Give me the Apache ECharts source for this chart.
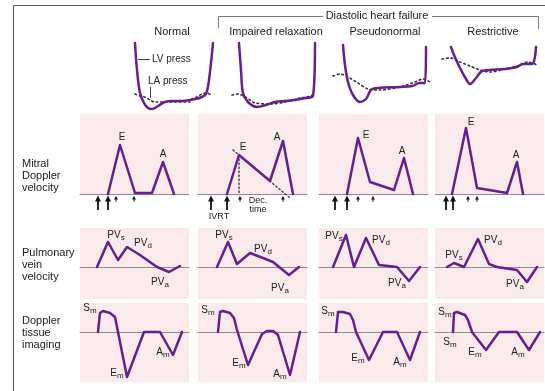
<!DOCTYPE html>
<html>
<head>
<meta charset="utf-8">
<script src="https://cdn.jsdelivr.net/npm/echarts@6/dist/echarts.min.js"></script>
<style>
  html, body { margin: 0; padding: 0; background: #fff; }
  #chart { width: 545px; height: 391px; }
</style>
</head>
<body>
<div id="chart"></div>
<script>
// ---- Content -------------------------------------------------------------
const patterns = ['Normal', 'Impaired relaxation', 'Pseudonormal', 'Restrictive'];
const groupTitle = 'Diastolic heart failure';
const rowTitles = ['Mitral\nDoppler\nvelocity', 'Pulmonary\nvein\nvelocity', 'Doppler\ntissue\nimaging'];
const pressureNames = ['LV press', 'LA press'];
const intervalNames = ['IVRT', 'Dec.\ntime'];

// LV pressure (solid) per pattern: [time, pressure]
const lvPressure = [
  [[5,69],[7,42],[10,19],[14,9],[18,4],[22,3],[28,6],[35,10],[42,11],[50,11],[65,13],[72,15],[76,18],[79,32],[83,69]],
  [[9,69],[11,42],[13,19],[18,10],[27,5],[36,7],[45,10],[55,11],[65,12],[75,14],[83,16],[85,69]],
  [[13,67],[15,47],[18,30],[23,17],[30,10],[36,13],[41,22],[48,24],[70,25],[82,26],[90,29],[95,29],[96,65]],
  [[11,65],[14,57],[20,44],[26,33],[30,28],[36,34],[42,41],[50,42],[65,43],[77,45],[83,48],[92,48],[96,65]]
];
// LA pressure (dotted) per pattern: [time, pressure]
const laPressure = [
  [[5,18],[10,16],[15,15],[20,12],[25,10],[40,10],[60,10],[62,13],[67,15],[72,18],[77,19],[81,17]],
  [[2,17],[8,18],[15,15],[20,12],[25,9],[40,8],[55,10],[70,14],[77,15],[83,17]],
  [[3,36],[10,38],[18,35],[28,29],[38,23],[50,22],[70,25],[85,30],[93,33],[100,30]],
  [[2,53],[10,54],[20,50],[30,46],[40,42],[50,40],[65,43],[77,46],[88,50],[97,47]]
];

// Mitral inflow velocity: [time, velocity, wave]
const mitralFlow = [
  [[28,0],[40,49,'E'],[55,1],[72,1],[83,32,'A'],[94,0]],
  [[29,0],[41,39,'E'],[72,13],[85,53,'A'],[95,0]],
  [[28,0],[39,56,'E'],[51,12],[75,4],[85,36,'A'],[94,0]],
  [[17,0],[31,66,'E'],[42,6],[72,1],[82,32,'A'],[88,0]]
];
// Timing events under the mitral trace (bold = valve events, thin = E onset/decel end)
const mitralBoldEvents = [[18,28],[13,29],[16,28],[11,18]];
const mitralThinEvents = [[36,54],[42,85],[39,54],[33,42]];
// Deceleration slope extrapolated through E (impaired relaxation)
const decelSlope = [[35,44],[92,-4]];

// Pulmonary vein velocity: [time, velocity, wave]
const pvFlow = [
  [[17,0],[28,25,'PVs'],[38,7],[47,20,'PVd'],[60,12],[77,0],[89,-5,'PVa'],[100,1]],
  [[19,0],[30,25,'PVs'],[39,3],[52,14,'PVd'],[65,9],[75,5],[91,-8,'PVa'],[101,0]],
  [[14,0],[27,32,'PVs'],[35,0],[47,29,'PVd'],[60,2],[78,0],[90,-14,'PVa'],[101,0]],
  [[12,0],[19,4,'PVs'],[29,0],[43,28,'PVd'],[54,3],[62,0],[82,-3],[92,-15,'PVa'],[102,0]]
];

// Doppler tissue (annular) velocity: [time, velocity, wave]
const dtiVelocity = [
  [[18,0],[20,19],[23,21,'Sm'],[30,19],[35,15],[37,5],[47,-45,'Em'],[64,0],[80,0],[93,-23,'Am'],[102,0]],
  [[20,0],[22,20],[25,21,'Sm'],[32,19],[36,14],[39,2],[50,-33,'Em'],[64,-2],[69,1],[75,1],[80,-3],[92,-43,'Am'],[102,0]],
  [[17,0],[19,20,'Sm'],[24,20],[31,18],[34,12],[37,0],[50,-28,'Em'],[64,0],[78,0],[91,-28,'Am'],[101,0]],
  [[18,0,'Sm'],[19,19,'Sm'],[22,20],[30,17],[33,12],[37,0],[51,-18,'Em'],[64,0],[82,0],[94,-18,'Am'],[105,0]]
];

// ---- Styling / layout ----------------------------------------------------
const FONT = '"Liberation Sans", Arial, Helvetica, sans-serif';
const PURPLE = '#64208c';
const PINK = '#fbeaec';
const BASE = '#8e8e8e';
const INK = '#222';

const colLeft = [80, 198, 319, 435];
const panelW = 109;
const pressLeft = [130, 230, 330, 440];
const rows = [
  { top: 114, height: 80, min: 0, max: 80 },    // mitral
  { top: 228, height: 71, min: -32, max: 39 },  // pulmonary vein
  { top: 303, height: 79, min: -50, max: 29 }   // tissue Doppler
];

// label offsets (px) from the named wave points, in order of appearance
const labelOffsets = [
  [[[2,-8],[0,-8]], [[4,-8],[-6,-4]], [[8,-3],[-2,-7]], [[5,-6],[-1,-7]]],
  [[[8,-7],[16,-4],[-9,10]], [[-4,-7],[13,-4],[-9,13]], [[-12,1],[15,2],[-12,2]], [[0,-8],[15,1],[-12,2]]],
  [[[-13,-3],[-10,-4],[-10,-3]], [[-15,-1],[-9,-2],[-10,-1]], [[-10,-1],[-11,-2],[-10,2]], [[-3,10],[-9,-1],[-11,2],[-11,2]]]
];

const rich = {
  b: { fontSize: 10, lineHeight: 13, fontFamily: FONT, fill: INK },
  s: { fontSize: 8, lineHeight: 8, verticalAlign: 'bottom', fontFamily: FONT, fill: INK }
};
function waveText(name) {
  return name.length > 1 ? '{b|' + name.slice(0, -1) + '}{s|' + name.slice(-1) + '}' : '{b|' + name + '}';
}

const grids = [], xAxes = [], yAxes = [], series = [];

function addGrid(box, xMax, yMin, yMax, panel) {
  const idx = grids.length;
  grids.push(Object.assign({
    show: !!panel, backgroundColor: panel ? PINK : 'transparent', borderWidth: 0, containLabel: false
  }, box));
  xAxes.push({
    gridIndex: idx, type: 'value', min: 0, max: xMax, show: !!panel,
    axisLine: { show: !!panel, onZero: true, lineStyle: { color: BASE, width: 1.2 } },
    axisTick: { show: false }, axisLabel: { show: false }, splitLine: { show: false }
  });
  yAxes.push({ gridIndex: idx, type: 'value', min: yMin, max: yMax, show: false, splitLine: { show: false } });
  return idx;
}

function traceSeries(idx, pts, opts) {
  return Object.assign({
    type: 'line', xAxisIndex: idx, yAxisIndex: idx, showSymbol: false, symbol: 'none',
    silent: true, animation: false, clip: false, z: 4,
    lineStyle: { color: PURPLE, width: 2.5, join: 'round', cap: 'round' },
    data: pts.map(p => [p[0], p[1]])
  }, opts || {});
}

function labelSeries(idx, pts, offsets) {
  const named = pts.filter(p => p.length > 2);
  return {
    type: 'custom', xAxisIndex: idx, yAxisIndex: idx, silent: true, animation: false, clip: false, z: 6,
    data: named.map((p, i) => [p[0], p[1], i]),
    renderItem: (params, api) => {
      const i = api.value(2);
      const pt = api.coord([api.value(0), api.value(1)]);
      const off = offsets[i];
      return {
        type: 'text', x: pt[0] + off[0], y: pt[1] + off[1],
        style: { text: waveText(named[i][2]), rich: rich, align: 'center', verticalAlign: 'middle', fill: INK }
      };
    }
  };
}

function arrowSeries(idx, bold, thin) {
  const data = bold.map(x => [x, 1]).concat(thin.map(x => [x, 0]));
  return {
    type: 'custom', xAxisIndex: idx, yAxisIndex: idx, silent: true, animation: false, clip: false, z: 6,
    data: data,
    renderItem: (params, api) => {
      const heavy = api.value(1) === 1;
      const p = api.coord([api.value(0), 0]);
      const tip = p[1] + (heavy ? 1.5 : 2);
      const tail = p[1] + (heavy ? 16 : 8);
      const hh = heavy ? 6 : 3.5, hw = heavy ? 3 : 2;
      return {
        type: 'group', children: [
          { type: 'line', shape: { x1: p[0], y1: tail, x2: p[0], y2: tip + hh - 1 },
            style: { stroke: '#111', lineWidth: heavy ? 1.8 : 0.9 } },
          { type: 'polygon', shape: { points: [[p[0], tip], [p[0] - hw, tip + hh], [p[0] + hw, tip + hh]] },
            style: { fill: '#111' } }
        ]
      };
    }
  };
}

// ---- Pressure traces ------------------------------------------------------
for (let c = 0; c < 4; c++) {
  const idx = addGrid({ left: pressLeft[c], top: 40, width: 105, height: 72 }, 105, 0, 72, false);
  series.push(traceSeries(idx, laPressure[c], {
    smooth: 0.3, z: 3, lineStyle: { color: '#333', width: 1.6, type: [1.6, 3], cap: 'round' }
  }));
  series.push(traceSeries(idx, lvPressure[c], { smooth: 0.35 }));
}

// ---- Doppler panels ---------------------------------------------------------
const rowData = [mitralFlow, pvFlow, dtiVelocity];
for (let r = 0; r < 3; r++) {
  for (let c = 0; c < 4; c++) {
    const R = rows[r];
    const idx = addGrid({ left: colLeft[c], top: R.top, width: panelW, height: R.height }, panelW, R.min, R.max, true);
    const pts = rowData[r][c];
    series.push(traceSeries(idx, pts));
    series.push(labelSeries(idx, pts, labelOffsets[r][c]));
    if (r === 0) {
      series.push(arrowSeries(idx, mitralBoldEvents[c], mitralThinEvents[c]));
      if (c === 1) {
        const ePeak = pts.find(p => p[2] === 'E');
        const dotted = { color: '#333', width: 1.3, type: [1.5, 2.5], cap: 'round' };
        series.push(traceSeries(idx, decelSlope, { z: 3, lineStyle: dotted }));
        series.push(traceSeries(idx, [[ePeak[0], ePeak[1]], [ePeak[0], 0]], { z: 3, lineStyle: dotted }));
        const ivrtX = (mitralBoldEvents[c][0] + mitralBoldEvents[c][1]) / 2;
        const decX = (ePeak[0] + mitralThinEvents[c][1]) / 2 - 3;
        series.push({
          type: 'custom', xAxisIndex: idx, yAxisIndex: idx, silent: true, animation: false, clip: false, z: 6,
          data: [[ivrtX, 0], [decX, 1]],
          renderItem: (params, api) => {
            const k = api.value(1);
            const p = api.coord([api.value(0), 0]);
            return {
              type: 'text', x: p[0], y: p[1] + (k === 0 ? 23 : 11),
              style: { text: intervalNames[k], fontSize: 9, lineHeight: 8.5, fontFamily: FONT, fill: INK,
                       align: 'center', verticalAlign: 'middle' }
            };
          }
        });
      }
    }
  }
}

// ---- Titles, frame and bracket ----------------------------------------------
const titleCenters = [172, 276, 385, 493];
const graphic = [
  { type: 'line', shape: { x1: 13, y1: 5.5, x2: 545, y2: 5.5 }, style: { stroke: '#5a5a5a', lineWidth: 1 } },
  { type: 'line', shape: { x1: 13.5, y1: 5, x2: 13.5, y2: 391 }, style: { stroke: '#5a5a5a', lineWidth: 1 } },
  { type: 'polyline', shape: { points: [[218.5, 28], [218.5, 16.5], [323, 16.5]] }, style: { stroke: '#7a7a7a', lineWidth: 1, fill: null } },
  { type: 'polyline', shape: { points: [[432, 16.5], [538.5, 16.5], [538.5, 29]] }, style: { stroke: '#7a7a7a', lineWidth: 1, fill: null } },
  { type: 'text', x: 377, y: 16, style: { text: groupTitle, fontSize: 11, fontFamily: FONT, fill: INK, align: 'center', verticalAlign: 'middle' } },
  // pressure labels with leaders
  { type: 'line', shape: { x1: 138, y1: 59.5, x2: 150, y2: 59.5 }, style: { stroke: '#444', lineWidth: 1 } },
  { type: 'text', x: 152, y: 59, style: { text: pressureNames[0], fontSize: 10, fontFamily: FONT, fill: INK, align: 'left', verticalAlign: 'middle' } },
  { type: 'text', x: 148, y: 81, style: { text: pressureNames[1], fontSize: 10, fontFamily: FONT, fill: INK, align: 'left', verticalAlign: 'middle' } },
  { type: 'line', shape: { x1: 150.5, y1: 87, x2: 150.5, y2: 98 }, style: { stroke: '#444', lineWidth: 1 } }
];
patterns.forEach((t, i) => graphic.push({
  type: 'text', x: titleCenters[i], y: 32,
  style: { text: t, fontSize: 11, fontFamily: FONT, fill: INK, align: 'center', verticalAlign: 'middle' }
}));
const rowTitleY = [176, 265, 333];
rowTitles.forEach((t, i) => graphic.push({
  type: 'text', x: 22, y: rowTitleY[i],
  style: { text: t, fontSize: 11, lineHeight: 12, fontFamily: FONT, fill: INK, align: 'left', verticalAlign: 'middle' }
}));

const chart = echarts.init(document.getElementById('chart'), null, { renderer: 'canvas' });
chart.setOption({
  backgroundColor: '#ffffff',
  animation: false,
  grid: grids,
  xAxis: xAxes,
  yAxis: yAxes,
  series: series,
  graphic: graphic
});
</script>
</body>
</html>
